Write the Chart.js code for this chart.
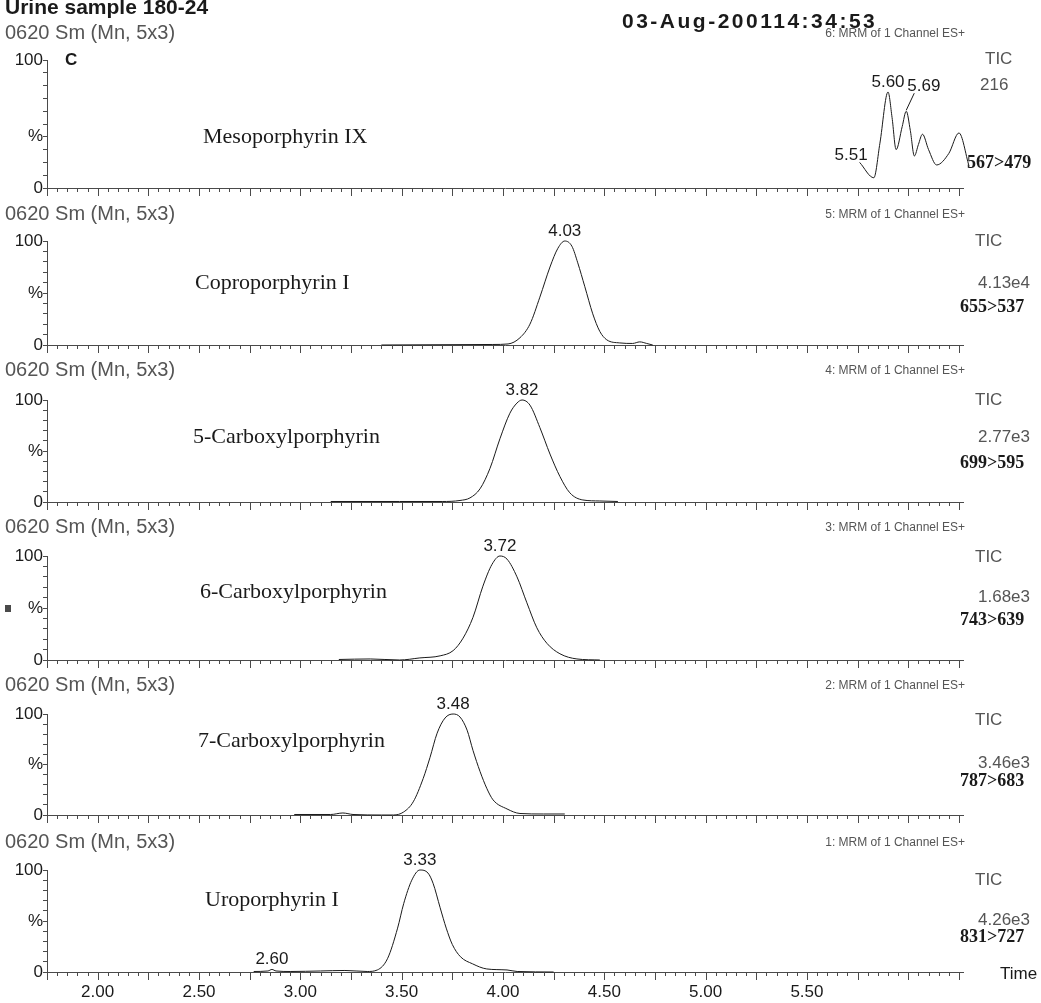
<!DOCTYPE html>
<html>
<head>
<meta charset="utf-8">
<script src="https://cdn.jsdelivr.net/npm/chart.js@4.4.1/dist/chart.umd.min.js"></script>
<style>
  html, body { margin: 0; padding: 0; background: #fff; }
  #wrap { position: relative; width: 1041px; height: 1003px; overflow: hidden; background: #fff; }
  #wrap canvas { position: absolute; left: 0; top: 0; }
</style>
</head>
<body>
<div id="wrap"></div>
<script>
// ---- time axis ----
const timeMin = 1.75;
const timeMax = 6.27;
const timeTicks = [2.0, 2.5, 3.0, 3.5, 4.0, 4.5, 5.0, 5.5];
const timeLabels = ['2.00', '2.50', '3.00', '3.50', '4.00', '4.50', '5.00', '5.50'];

// ---- panel texts ----
const compoundNames = ['Mesoporphyrin IX', 'Coproporphyrin I', '5-Carboxylporphyrin',
  '6-Carboxylporphyrin', '7-Carboxylporphyrin', 'Uroporphyrin I'];
const channelNames = ['6: MRM of 1 Channel ES+', '5: MRM of 1 Channel ES+', '4: MRM of 1 Channel ES+',
  '3: MRM of 1 Channel ES+', '2: MRM of 1 Channel ES+', '1: MRM of 1 Channel ES+'];
const ticValues = ['216', '4.13e4', '2.77e3', '1.68e3', '3.46e3', '4.26e3'];
const transitions = ['567>479', '655>537', '699>595', '743>639', '787>683', '831>727'];

// ---- traces (time in min, intensity in %) ----
const mesoTime = [5.76, 5.83, 5.86, 5.90, 5.92, 5.94, 5.97, 5.99, 6.01, 6.03, 6.05, 6.07, 6.10, 6.14, 6.20, 6.25, 6.30];
const mesoInt  = [20, 8, 35, 75, 55, 30, 48, 60, 45, 25, 34, 42, 30, 18, 27, 43, 17];

const coproTime = [3.40, 3.95, 4.025, 4.084, 4.133, 4.182, 4.232, 4.271, 4.305, 4.34, 4.369, 4.404, 4.443, 4.478, 4.512, 4.576, 4.64, 4.675, 4.709, 4.739];
const coproInt  = [0, 0.5, 1, 7, 20, 46, 75, 93, 100, 95, 79, 56, 30, 13, 5, 2, 1.5, 3, 1.5, 0];

const c5Time = [3.15, 3.49, 3.70, 3.788, 3.837, 3.887, 3.936, 3.985, 4.034, 4.069, 4.094, 4.133, 4.182, 4.232, 4.281, 4.33, 4.394, 4.478, 4.567];
const c5Int  = [0.5, 0.5, 0.5, 1.5, 4, 13, 33, 62, 87, 97, 100, 95, 73, 47, 25, 9, 2, 1, 0.5];

const c6Time = [3.19, 3.345, 3.49, 3.59, 3.69, 3.754, 3.803, 3.852, 3.901, 3.946, 3.985, 4.02, 4.069, 4.118, 4.167, 4.217, 4.281, 4.365, 4.478];
const c6Int  = [0.5, 1, 0, 2, 4, 9, 21, 41, 71, 92, 100, 97, 80, 55, 31, 16, 6, 1, 0];

const c7Time = [2.97, 3.15, 3.21, 3.26, 3.40, 3.46, 3.51, 3.557, 3.606, 3.64, 3.675, 3.714, 3.754, 3.788, 3.823, 3.852, 3.887, 3.921, 3.951, 4.02, 4.084, 4.20, 4.305];
const c7Int  = [0.5, 0.5, 2, 0.5, 0, 0, 3, 13, 36, 57, 81, 96, 100, 97, 84, 64, 43, 26, 15, 6, 1.5, 1, 1];

const uroTime = [2.77, 2.84, 2.86, 2.88, 2.95, 3.10, 3.22, 3.33, 3.38, 3.43, 3.48, 3.51, 3.55, 3.59, 3.63, 3.655, 3.69, 3.72, 3.75, 3.79, 3.85, 3.92, 4.02, 4.07, 4.25];
const uroInt  = [0.5, 1, 2.5, 1, 0.5, 1, 1.5, 0.5, 2, 13, 43, 67, 90, 100, 97, 87, 63, 43, 27, 15, 8, 3, 2, 0.5, 0];

// peak labels: text + index of the point they sit on
const mesoPeaks  = [{ text: '5.51', idx: 0 }, { text: '5.60', idx: 3 }, { text: '5.69', idx: 7 }];
const coproPeaks = [{ text: '4.03', idx: 8 }];
const c5Peaks    = [{ text: '3.82', idx: 10 }];
const c6Peaks    = [{ text: '3.72', idx: 10 }];
const c7Peaks    = [{ text: '3.48', idx: 12 }];
const uroPeaks   = [{ text: '2.60', idx: 2 }, { text: '3.33', idx: 13 }];

// where the "%" mark sits on each intensity axis
const percentMarks = [40, 50, 50, 50, 50, 50];

const traces = [
  [mesoTime, mesoInt, mesoPeaks],
  [coproTime, coproInt, coproPeaks],
  [c5Time, c5Int, c5Peaks],
  [c6Time, c6Int, c6Peaks],
  [c7Time, c7Int, c7Peaks],
  [uroTime, uroInt, uroPeaks]
];

// page layout of each panel (pixels)
const boxes = [
  { top: 60,  bottom: 188, head: 33,  titleX: 203, titleY: 137, ticX: 985, ticY: 59,  valX: 980, valY: 85,  trX: 967, trY: 163 },
  { top: 241, bottom: 345, head: 214, titleX: 195, titleY: 283, ticX: 975, ticY: 241, valX: 978, valY: 283, trX: 960, trY: 307 },
  { top: 400, bottom: 502, head: 370, titleX: 193, titleY: 437, ticX: 975, ticY: 400, valX: 978, valY: 437, trX: 960, trY: 463 },
  { top: 556, bottom: 660, head: 527, titleX: 200, titleY: 592, ticX: 975, ticY: 557, valX: 978, valY: 597, trX: 960, trY: 620 },
  { top: 714, bottom: 815, head: 685, titleX: 198, titleY: 741, ticX: 975, ticY: 720, valX: 978, valY: 763, trX: 960, trY: 781 },
  { top: 870, bottom: 972, head: 842, titleX: 205, titleY: 900, ticX: 975, ticY: 880, valX: 978, valY: 920, trX: 960, trY: 937 }
];

const W = 1041, H = 1003, AXIS_LEFT = 47, AXIS_RIGHT = 963;
const SANS = '"Liberation Sans", Arial, Helvetica, sans-serif';
const SERIF = '"Liberation Serif", "Times New Roman", serif';
const INK = '#1a1a1a';
const GREY = '#4a4a4a';

// ticks under the time axis + all the printed text of a panel
const panelText = {
  id: 'panelText',
  afterDraw(chart, args, opts) {
    const i = opts.index;
    const b = boxes[i];
    const ctx = chart.ctx;
    const xs = chart.scales.x, ys = chart.scales.y;
    ctx.save();

    // minor / major tick marks on the time axis
    ctx.strokeStyle = GREY;
    ctx.lineWidth = 1;
    ctx.beginPath();
    for (let k = 0; ; k++) {
      const v = Math.round((timeMin + k * 0.05) * 100) / 100;
      if (v > timeMax + 1e-9) break;
      const px = Math.round(xs.getPixelForValue(v)) + 0.5;
      const major = Math.round(v * 100) % 25 === 0;
      ctx.moveTo(px, b.bottom);
      ctx.lineTo(px, b.bottom + (major ? 8 : 4));
    }
    ctx.stroke();

    // header line
    ctx.fillStyle = '#555';
    ctx.textBaseline = 'middle';
    ctx.textAlign = 'left';
    ctx.font = '20px ' + SANS;
    ctx.fillText('0620 Sm (Mn, 5x3)', 5, b.head);
    ctx.font = '12px ' + SANS;
    ctx.textAlign = 'right';
    ctx.fillText(channelNames[i], 965, b.head + 1);

    // compound name
    ctx.fillStyle = INK;
    ctx.textAlign = 'left';
    ctx.font = '22px ' + SERIF;
    ctx.fillText(compoundNames[i], b.titleX, b.titleY);

    // TIC, intensity, transition
    ctx.fillStyle = '#555';
    ctx.font = '17px ' + SANS;
    ctx.fillText('TIC', b.ticX, b.ticY);
    ctx.fillText(ticValues[i], b.valX, b.valY);
    ctx.fillStyle = INK;
    ctx.font = 'bold 18px ' + SERIF;
    ctx.fillText(transitions[i], b.trX, b.trY);

    // peak labels
    const [tArr, vArr, peaks] = traces[i];
    ctx.font = '17px ' + SANS;
    ctx.textBaseline = 'alphabetic';
    peaks.forEach(p => {
      const px = xs.getPixelForValue(tArr[p.idx]);
      const py = ys.getPixelForValue(vArr[p.idx]);
      ctx.fillStyle = INK;
      if (p.text === '5.51') {
        ctx.textAlign = 'right';
        ctx.fillText(p.text, px + 8, py - 2);
      } else if (p.text === '5.69') {
        ctx.textAlign = 'left';
        ctx.fillText(p.text, px + 1, py - 20);
        ctx.strokeStyle = INK;
        ctx.beginPath();
        ctx.moveTo(px + 8, py - 18);
        ctx.lineTo(px, py - 1);
        ctx.stroke();
      } else {
        ctx.textAlign = 'center';
        ctx.fillText(p.text, px, py - 5);
      }
    });

    // extras
    ctx.textBaseline = 'middle';
    if (i === 0) {
      ctx.fillStyle = INK;
      ctx.textAlign = 'left';
      ctx.font = 'bold 17px ' + SANS;
      ctx.fillText('C', 65, b.top);
      ctx.font = 'bold 21px ' + SANS;
      ctx.fillText('Urine sample 180-24', 5, 8);
      ctx.letterSpacing = '2.5px';
      ctx.font = 'bold 21px ' + SANS;
      ctx.fillText('03-Aug-200114:34:53', 622, 22);
      ctx.letterSpacing = '0px';
    }
    if (i === 3) {
      ctx.fillStyle = GREY;
      ctx.fillRect(5, (b.top + b.bottom) / 2 - 3, 6, 7);
    }
    if (i === 5) {
      ctx.fillStyle = INK;
      ctx.textAlign = 'left';
      ctx.font = '17px ' + SANS;
      ctx.fillText('Time', 1000, b.bottom + 2);
    }
    ctx.restore();
  }
};

const wrap = document.getElementById('wrap');

traces.forEach(([tArr, vArr], i) => {
  const b = boxes[i];
  const last = i === traces.length - 1;
  const xAxisH = last ? 30 : 10;
  const canvas = document.createElement('canvas');
  canvas.width = W;
  canvas.height = H;
  wrap.appendChild(canvas);

  new Chart(canvas, {
    type: 'line',
    data: {
      datasets: [{
        data: tArr.map((t, k) => ({ x: t, y: vArr[k] })),
        borderColor: INK,
        borderWidth: 1,
        pointRadius: 0,
        fill: false,
        cubicInterpolationMode: 'monotone',
        clip: false
      }]
    },
    options: {
      responsive: false,
      animation: false,
      events: [],
      layout: { padding: { top: b.top, bottom: H - b.bottom - xAxisH, left: 0, right: W - AXIS_RIGHT } },
      plugins: {
        legend: { display: false },
        tooltip: { enabled: false },
        panelText: { index: i }
      },
      scales: {
        x: {
          type: 'linear',
          min: timeMin,
          max: timeMax,
          afterBuildTicks: s => { s.ticks = timeTicks.map(v => ({ value: v })); },
          afterFit: s => { s.height = xAxisH; },
          grid: { display: false },
          border: { display: true, color: GREY, width: 1 },
          ticks: {
            display: last,
            autoSkip: false,
            maxRotation: 0,
            padding: 2,
            color: INK,
            font: { family: SANS, size: 17 },
            callback: (v, k) => timeLabels[k]
          }
        },
        y: {
          min: 0,
          max: 100,
          afterFit: s => { s.width = AXIS_LEFT; },
          grid: { display: true, drawOnChartArea: false, drawTicks: true, tickLength: 4, color: GREY },
          border: { display: true, color: GREY, width: 1 },
          ticks: {
            stepSize: 10,
            autoSkip: false,
            padding: 0,
            color: INK,
            font: { family: SANS, size: 17 },
            callback: v => (v === 100 ? '100' : v === percentMarks[i] ? '%' : v === 0 ? '0' : '')
          }
        }
      }
    },
    plugins: [panelText]
  });
});
</script>
</body>
</html>
